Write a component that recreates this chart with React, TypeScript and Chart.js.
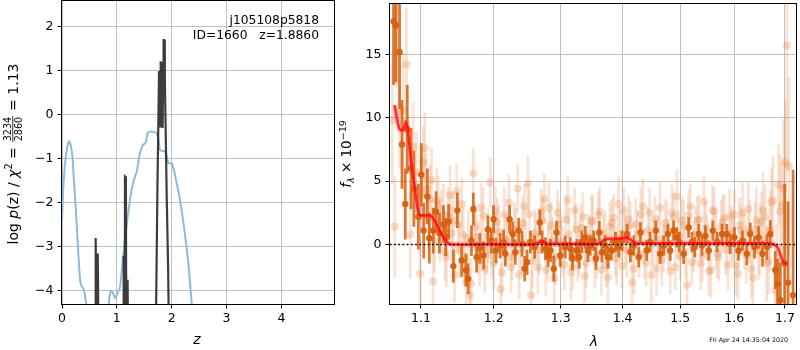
import React, { useEffect, useRef } from 'react';
import { Chart, registerables } from 'chart.js';

Chart.register(...registerables);

// ---------------- Left panel: log p(z) ----------------
const zTicks = [0, 1, 2, 3, 4];
const logpTicks = [-4, -3, -2, -1, 0, 1, 2];
const zRange = [0, 4.96];
const logpRange = [-4.3, 2.59];

const zBlue = [0, 0.02, 0.05, 0.08, 0.11, 0.13, 0.16, 0.19, 0.22, 0.25, 0.27, 0.30, 0.33, 0.36, 0.40, 0.44, 0.48, 0.6, 0.75, 0.84, 0.87, 0.89, 0.93, 0.97, 1.01, 1.06, 1.12, 1.19, 1.27, 1.32, 1.37, 1.40, 1.42, 1.48, 1.53, 1.56, 1.62, 1.67, 1.72, 1.75, 1.79, 1.84, 1.88, 1.91, 1.94, 2.0, 2.04, 2.09, 2.14, 2.18, 2.23, 2.27, 2.31, 2.34, 2.38];
const logpBlue = [-2.4, -1.75, -1.17, -0.85, -0.65, -0.6, -0.7, -0.95, -1.55, -2.1, -2.54, -3.2, -3.75, -3.9, -3.98, -4.28, -4.6, -5.2, -5.0, -4.45, -4.1, -4.0, -4.05, -4.17, -4.05, -3.9, -3.14, -2.39, -1.7, -1.45, -1.25, -1.0, -0.87, -0.68, -0.62, -0.42, -0.38, -0.39, -0.41, -0.5, -0.8, -0.82, -0.83, -0.95, -1.1, -1.1, -1.25, -1.55, -1.85, -2.16, -2.6, -3.0, -3.45, -3.9, -4.5];

const zDark = [0.58, 0.608, 0.614, 0.63, 0.645, 0.652, 0.665, 0.68, 1.10, 1.115, 1.12, 1.13, 1.142, 1.148, 1.165, 1.172, 1.18, 1.19, 1.196, 1.21, 1.70, 1.715, 1.74, 1.77, 1.782, 1.79, 1.80, 1.81, 1.822, 1.835, 1.845, 1.852, 1.862, 1.872, 1.878, 1.89, 1.91, 1.935, 1.96];
const logpDark = [-6, -5, -2.8, -5.5, -5, -3.15, -5, -6, -6, -5, -3.2, -5.5, -5, -1.4, -1.42, -5, -5.5, -5, -3.75, -6, -6, -4.5, -1.7, 1.0, 0.9, -0.26, 1.22, -0.2, 1.2, -0.3, 1.0, 1.7, 1.7, 1.2, 0.85, -0.3, -1.9, -3.45, -6];

// ---------------- Right panel: spectrum ----------------
const lamTicks = [1.1, 1.2, 1.3, 1.4, 1.5, 1.6, 1.7];
const fluxTicks = [0, 5, 10, 15];
const lamRange = [1.06, 1.7226];
const fluxRange = [-4.69, 18.98];

const lamLight = [1.063, 1.066, 1.068, 1.072, 1.077, 1.081, 1.086, 1.090, 1.094, 1.099, 1.103, 1.107, 1.112, 1.116, 1.121, 1.125, 1.130, 1.134, 1.139, 1.143, 1.148, 1.152, 1.157, 1.161, 1.166, 1.171, 1.175, 1.180, 1.185, 1.190, 1.195, 1.200, 1.205, 1.210, 1.215, 1.220, 1.225, 1.230, 1.235, 1.240, 1.245, 1.250, 1.255, 1.260, 1.265, 1.270, 1.275, 1.280, 1.285, 1.290, 1.295, 1.300, 1.306, 1.311, 1.316, 1.322, 1.327, 1.332, 1.338, 1.343, 1.349, 1.354, 1.360, 1.365, 1.371, 1.376, 1.382, 1.388, 1.393, 1.399, 1.405, 1.410, 1.416, 1.422, 1.428, 1.434, 1.440, 1.446, 1.452, 1.458, 1.464, 1.470, 1.476, 1.482, 1.488, 1.494, 1.500, 1.506, 1.512, 1.518, 1.524, 1.531, 1.537, 1.543, 1.549, 1.556, 1.562, 1.568, 1.575, 1.581, 1.588, 1.594, 1.600, 1.607, 1.613, 1.620, 1.627, 1.633, 1.640, 1.647, 1.653, 1.660, 1.667, 1.673, 1.680, 1.687, 1.694, 1.701, 1.704, 1.708];
const fluxLight = [9.8, 1.4, 18.4, 10.5, 10.6, 14.2, 0.8, 7.7, 5.7, -2.3, 6.5, 4.4, 3.6, -2.9, 3.5, 1.1, 2.4, -1.0, 3.9, 1.9, 4.2, -0.5, 0.8, -3.0, -4.0, 5.6, 0.6, -1.3, 2.3, -0.5, 4.9, -1.5, 1.8, -3.5, 2.4, 0.3, -1.8, 1.2, 4.4, -0.4, 3.0, 4.8, -4.0, 0.9, -1.8, 2.6, 3.6, -0.8, 1.5, -2.7, 2.5, 0.2, -1.6, 3.5, -2.2, 2.7, -0.9, 1.3, -2.5, 0.6, 1.9, -1.2, 2.3, -2.0, 0.9, -2.6, 1.7, -0.5, 3.2, -1.7, 0.4, 2.0, -3.0, 1.6, -0.8, 3.0, -1.4, 2.5, 0.1, -1.9, 2.9, -0.3, 1.2, -2.1, 2.2, 3.8, -0.9, 1.5, -3.2, 3.0, -0.2, 1.9, -1.5, 3.4, 0.6, -2.0, 2.6, -0.7, 1.4, 2.1, -1.6, 0.9, 2.4, -2.3, 1.1, 0.2, 2.8, -1.9, 1.2, -0.4, 1.8, 2.2, -1.3, 3.3, -3.6, 4.7, 3.1, 6.5, 15.7, 6.2];
const errLight = [5.0, 4.0, 6.0, 4.5, 4.5, 4.5, 3.5, 3.5, 3.2, 3.0, 2.9, 2.8, 2.7, 2.6, 2.6, 2.5, 2.4, 2.4, 2.3, 2.3, 2.2, 2.2, 2.2, 2.1, 2.1, 2.0, 2.1, 2.0, 2.2, 1.9, 2.0, 2.1, 1.9, 2.0, 2.2, 1.8, 2.0, 2.1, 1.9, 2.0, 1.8, 2.2, 2.0, 1.9, 2.1, 1.8, 2.0, 2.2, 1.9, 2.0, 1.8, 2.1, 2.0, 1.9, 2.2, 1.8, 2.0, 1.9, 2.1, 1.8, 2.0, 2.2, 1.9, 2.0, 1.8, 2.1, 1.9, 2.0, 2.2, 1.8, 2.0, 1.9, 2.1, 2.0, 1.8, 2.2, 1.9, 2.0, 1.8, 2.1, 2.0, 1.9, 2.2, 1.8, 2.0, 2.1, 1.9, 2.0, 2.2, 1.8, 2.0, 1.9, 2.1, 2.0, 1.8, 2.2, 1.9, 2.0, 2.1, 1.9, 2.0, 2.2, 1.9, 2.1, 2.0, 2.2, 2.1, 2.3, 2.2, 2.4, 2.3, 2.5, 2.6, 2.8, 3.0, 3.2, 3.5, 5.0, 10.0, 7.0];

const lamLight2 = [1.101, 1.105, 1.110, 1.114, 1.118, 1.123, 1.127, 1.132, 1.136, 1.141, 1.145, 1.150, 1.155, 1.159, 1.164, 1.168, 1.173, 1.178, 1.182, 1.187, 1.192, 1.197, 1.202, 1.207, 1.212, 1.217, 1.222, 1.227, 1.232, 1.237, 1.242, 1.247, 1.252, 1.257, 1.262, 1.267, 1.272, 1.277, 1.282, 1.287, 1.292, 1.297, 1.303, 1.308, 1.313, 1.319, 1.324, 1.329, 1.335, 1.340, 1.346, 1.351, 1.357, 1.362, 1.368, 1.373, 1.379, 1.385, 1.390, 1.396, 1.402, 1.407, 1.413, 1.419, 1.425, 1.431, 1.437, 1.443, 1.449, 1.455, 1.461, 1.467, 1.473, 1.479, 1.485, 1.491, 1.497, 1.503, 1.509, 1.515, 1.521, 1.527, 1.534, 1.540, 1.546, 1.552, 1.559, 1.565, 1.571, 1.578, 1.584, 1.591, 1.597, 1.603, 1.610, 1.616, 1.623, 1.630, 1.636, 1.643, 1.650, 1.656, 1.663, 1.670, 1.676, 1.683, 1.690, 1.697];
const fluxLight2 = [4.0, 7.6, 2.1, 5.1, 0.3, 3.0, 1.9, -0.6, 2.2, 0.9, -2.4, 1.6, 3.2, -1.1, 0.5, -3.1, 1.4, -0.2, 2.9, -1.9, 0.7, -0.9, 2.6, 1.0, -2.2, 0.4, 3.3, -1.0, 0.9, -2.4, 1.7, 0.1, 2.4, -1.3, 0.6, -0.4, 1.9, -2.0, 2.9, 0.3, -1.0, 1.6, -0.6, 2.0, 0.8, -1.8, 1.2, -0.3, 2.2, -1.5, 0.5, 1.8, -0.8, 2.6, 0.2, -1.6, 1.4, 2.1, -1.1, 0.8, 2.7, -0.4, 1.5, -1.9, 0.9, 2.4, -0.7, 1.1, -2.4, 2.0, 0.4, -1.2, 1.7, 0.0, 2.5, -1.8, 0.7, 1.9, -0.6, 2.3, -1.4, 0.8, 2.0, -0.9, 1.3, -2.1, 2.7, 0.3, -1.0, 1.8, -0.4, 2.2, 0.6, -1.7, 1.5, 2.5, -0.8, 1.0, -2.6, 1.9, 0.4, 2.7, -1.5, 1.1, 3.5, -2.2, 2.6, 4.4];
const errLight2 = [2.8, 2.8, 2.6, 2.6, 2.5, 2.4, 2.4, 2.3, 2.3, 2.2, 2.2, 2.1, 2.1, 2.0, 2.2, 2.0, 1.9, 2.1, 2.0, 1.9, 2.2, 1.8, 2.0, 2.1, 1.9, 2.0, 2.2, 1.8, 2.0, 1.9, 2.1, 1.8, 2.0, 2.2, 1.9, 2.0, 1.8, 2.1, 2.0, 1.9, 2.2, 1.8, 2.0, 1.9, 2.1, 1.8, 2.0, 2.2, 1.9, 2.0, 1.8, 2.1, 1.9, 2.0, 2.2, 1.8, 2.0, 1.9, 2.1, 2.0, 1.8, 2.2, 1.9, 2.0, 1.8, 2.1, 2.0, 1.9, 2.2, 1.8, 2.0, 2.1, 1.9, 2.0, 2.2, 1.8, 2.0, 1.9, 2.1, 2.0, 1.8, 2.2, 1.9, 2.0, 2.1, 1.9, 2.0, 2.2, 1.9, 2.1, 2.0, 2.2, 2.1, 2.3, 2.2, 2.4, 2.3, 2.5, 2.6, 2.6, 2.8, 3.0, 3.0, 3.2, 3.5, 3.8, 4.5, 5.5];

const lamDark = [1.0645, 1.0676, 1.0722, 1.0753, 1.0795, 1.0821, 1.0870, 1.0907, 1.0965, 1.1004, 1.1036, 1.1084, 1.1110, 1.1163, 1.1200, 1.1245, 1.1300, 1.1330, 1.1370, 1.1435, 1.1489, 1.1549, 1.1607, 1.1639, 1.1685, 1.1711, 1.1757, 1.1805, 1.1855, 1.1917, 1.1965, 1.1998, 1.2032, 1.2094, 1.2142, 1.2167, 1.2230, 1.2274, 1.2313, 1.2363, 1.2413, 1.2452, 1.2488, 1.2538, 1.2602, 1.2679, 1.2715, 1.2766, 1.2807, 1.2843, 1.2893, 1.2936, 1.2993, 1.3071, 1.3150, 1.3186, 1.3254, 1.3292, 1.3334, 1.3389, 1.3430, 1.3469, 1.3523, 1.3560, 1.3615, 1.3658, 1.3714, 1.3756, 1.3813, 1.3880, 1.3935, 1.3991, 1.4075, 1.4131, 1.4188, 1.4273, 1.4302, 1.4411, 1.4468, 1.4567, 1.4643, 1.4703, 1.4779, 1.4820, 1.4881, 1.4939, 1.4981, 1.5060, 1.5151, 1.5211, 1.5261, 1.5334, 1.5394, 1.5456, 1.5519, 1.5594, 1.5674, 1.5768, 1.5858, 1.5921, 1.6003, 1.6080, 1.6157, 1.6243, 1.6308, 1.6392, 1.6471, 1.6550, 1.6638, 1.6704, 1.6805, 1.6851, 1.6907, 1.6994, 1.7063, 1.7166];
const fluxDark = [17.6, 17.3, 15.2, 7.9, 3.2, 9.1, 6.0, 4.4, 2.2, 5.5, 1.1, 3.8, 0.5, 1.1, 2.6, 0.9, 1.6, 0.6, 1.8, -1.7, 2.7, -1.25, -2.0, -2.7, 0.3, 2.8, -1.0, -0.3, -0.86, 1.2, 0.3, 2.0, -0.47, -0.08, 0.18, -0.73, 2.0, 0.83, -0.6, 1.1, 0.05, -1.9, -1.4, 0.2, -0.2, 1.74, 0.2, -0.34, -0.86, -0.47, -1.9, 0.96, -0.86, -0.2, -0.34, -1.1, -0.47, -1.0, 0.2, 0.57, -0.47, -0.08, 0.3, -1.1, 0.96, -0.6, -0.08, -1.0, -0.47, 0.2, -0.2, 0.3, 0.83, -0.6, -0.08, -1.0, 0.96, -0.47, 0.2, 1.1, -0.73, -0.08, 0.83, -0.47, 1.1, 0.57, 0.2, -0.73, 1.35, 0.2, -0.2, 0.83, -0.08, 0.7, -0.47, 1.1, 0.2, 0.83, 0.83, 0.05, 0.57, -0.47, 0.3, -0.73, 0.83, -0.2, 0.57, -0.73, -0.2, 0.83, -2.0, -3.1, -4.4, -1.5, -3.0, -4.0];
const errDark = [5.0, 4.5, 4.5, 3.5, 2.8, 3.5, 3.2, 3.0, 2.6, 2.5, 2.2, 2.2, 2.0, 1.8, 1.6, 1.6, 1.5, 1.5, 1.4, 1.3, 1.4, 1.3, 1.3, 1.2, 1.2, 1.3, 1.2, 1.2, 1.1, 1.1, 1.0, 1.1, 1.0, 1.0, 1.0, 1.0, 1.1, 1.0, 1.0, 1.0, 1.0, 1.0, 1.0, 0.9, 0.9, 1.0, 0.9, 0.9, 0.9, 0.9, 1.0, 0.9, 0.9, 0.9, 0.9, 0.9, 0.9, 0.9, 0.9, 0.9, 0.9, 0.8, 0.8, 0.9, 0.9, 0.8, 0.8, 0.9, 0.8, 0.8, 0.8, 0.8, 0.8, 0.8, 0.8, 0.8, 0.8, 0.8, 0.8, 0.8, 0.8, 0.8, 0.8, 0.8, 0.8, 0.8, 0.8, 0.8, 0.8, 0.8, 0.8, 0.8, 0.8, 0.8, 0.8, 0.8, 0.8, 0.8, 0.8, 0.8, 0.8, 0.8, 0.8, 0.9, 0.9, 0.9, 0.9, 1.0, 1.0, 1.1, 1.5, 2.0, 3.0, 6.3, 6.4, 9.9];

const lamModel = [1.0658, 1.0687, 1.0722, 1.0765, 1.0804, 1.0831, 1.0870, 1.0918, 1.0961, 1.0987, 1.1049, 1.1115, 1.1181, 1.1248, 1.1315, 1.1383, 1.1454, 1.20, 1.255, 1.265, 1.272, 1.28, 1.30, 1.36, 1.368, 1.375, 1.39, 1.40, 1.407, 1.413, 1.42, 1.43, 1.50, 1.60, 1.665, 1.675, 1.684, 1.69, 1.695, 1.700, 1.705];
const fluxModel = [11.0, 10.0, 9.1, 9.0, 9.7, 8.9, 6.6, 4.5, 2.7, 2.3, 2.3, 2.3, 1.9, 1.1, 0.45, 0.05, 0.0, 0.02, 0.0, 0.15, 0.25, 0.05, 0.05, 0.05, 0.3, 0.45, 0.45, 0.5, 0.57, 0.4, 0.15, 0.1, 0.1, 0.1, 0.1, 0.05, -0.2, -0.7, -1.25, -1.5, -1.5];

const annotation = ['j105108p5818', 'ID=1660   z=1.8860'];
const timestamp = 'Fri Apr 24 14:35:04 2020';

// ---------------- helpers ----------------
const FAM = '"DejaVu Sans", sans-serif';
const F = (size: number, style = '') => `${style} ${size}px ${FAM}`.trim();
const fmtMinus = (v: number) => (v < 0 ? '\u2212' + Math.abs(v) : String(v));
const pts = (xs: number[], ys: number[]) => xs.map((x, i) => ({ x, y: ys[i] }));

type Piece = { t?: string; font: string; dy?: number; frac?: [string, string] };

function pieceWidth(ctx: CanvasRenderingContext2D, p: Piece) {
  ctx.font = p.font;
  if (p.frac) return Math.max(ctx.measureText(p.frac[0]).width, ctx.measureText(p.frac[1]).width) + 3;
  return ctx.measureText(p.t || '').width;
}

function drawPieces(ctx: CanvasRenderingContext2D, pieces: Piece[], cx: number, cy: number, rotated: boolean) {
  ctx.save();
  ctx.translate(cx, cy);
  if (rotated) ctx.rotate(-Math.PI / 2);
  const total = pieces.reduce((s, p) => s + pieceWidth(ctx, p), 0);
  let x = -total / 2;
  ctx.fillStyle = '#000';
  ctx.textBaseline = 'alphabetic';
  for (const p of pieces) {
    const w = pieceWidth(ctx, p);
    ctx.font = p.font;
    if (p.frac) {
      ctx.textAlign = 'center';
      ctx.fillText(p.frac[0], x + w / 2, -6.4);
      ctx.fillText(p.frac[1], x + w / 2, 4.9);
      ctx.fillRect(x + 0.8, -5.1, w - 1.6, 0.8);
    } else {
      ctx.textAlign = 'left';
      ctx.fillText(p.t || '', x, p.dy || 0);
    }
    x += w;
  }
  ctx.restore();
}

function frame(chart: any) {
  const { ctx, chartArea: a } = chart;
  ctx.save();
  ctx.strokeStyle = '#000';
  ctx.lineWidth = 1;
  ctx.strokeRect(Math.round(a.left) - 0.5, Math.round(a.top) - 0.5, Math.round(a.width) + 1, Math.round(a.height) + 1);
  ctx.restore();
}

const errorBarPlugin = {
  id: 'errbars',
  beforeDatasetDraw(chart: any, args: any) {
    const ds = chart.data.datasets[args.index];
    if (!ds.yErr) return;
    const { ctx, chartArea: a, scales } = chart;
    ctx.save();
    ctx.beginPath();
    ctx.rect(a.left, a.top, a.width, a.height);
    ctx.clip();
    ctx.strokeStyle = ds.errColor;
    ctx.lineWidth = ds.errWidth;
    ds.data.forEach((p: any, i: number) => {
      const x = scales.x.getPixelForValue(p.x);
      const y1 = scales.y.getPixelForValue(p.y - ds.yErr[i]);
      const y2 = scales.y.getPixelForValue(p.y + ds.yErr[i]);
      ctx.beginPath();
      ctx.moveTo(x, y1);
      ctx.lineTo(x, y2);
      ctx.stroke();
    });
    ctx.restore();
  },
};

const gridOpts = { color: '#b0b0b0', lineWidth: 0.8, tickColor: '#000', tickLength: 4.5, tickWidth: 1 };
const tickFont = { family: FAM, size: 12.5 };
const fitX = (s: any) => { s.height = 46; s.paddingLeft = 0; s.paddingRight = 0; s.paddingTop = 0; s.paddingBottom = 0; };
const fitY = (w: number) => (s: any) => { s.width = w; s.paddingTop = 0; s.paddingBottom = 0; s.paddingLeft = 0; s.paddingRight = 0; };

export default function App() {
  const leftRef = useRef<HTMLCanvasElement>(null);
  const rightRef = useRef<HTMLCanvasElement>(null);

  useEffect(() => {
    const leftPlugin = {
      id: 'leftDecor',
      afterDraw(chart: any) {
        frame(chart);
        const ctx = chart.ctx as CanvasRenderingContext2D;
        ctx.save();
        ctx.fillStyle = '#000';
        ctx.font = F(12.3);
        ctx.textAlign = 'right';
        ctx.textBaseline = 'alphabetic';
        ctx.fillText(annotation[0], 319, 24);
        ctx.fillText(annotation[1], 319, 39);
        ctx.restore();
        drawPieces(ctx, [{ t: 'z', font: F(14, 'italic') }], 197, 344, false);
        drawPieces(
          ctx,
          [
            { t: 'log ', font: F(14) },
            { t: 'p', font: F(14, 'italic') },
            { t: '(z) / ', font: F(14) },
            { t: '\u03c7', font: F(14, 'italic') },
            { t: '2', font: F(9.8), dy: -5.5 },
            { t: ' = ', font: F(14) },
            { frac: ['3234', '2860'], font: F(9.6) },
            { t: ' = 1.13', font: F(14) },
          ],
          17.5,
          154,
          true
        );
      },
    };

    const left = new Chart(leftRef.current!, {
      type: 'scatter',
      data: {
        datasets: [
          {
            data: pts(zDark, logpDark),
            showLine: true,
            borderColor: 'rgba(40,40,40,0.9)',
            borderWidth: 2.2,
            pointRadius: 0,
            clip: 0,
            order: 0,
          } as any,
          {
            data: pts(zBlue, logpBlue),
            showLine: true,
            borderColor: '#8fbbd9',
            borderWidth: 2,
            pointRadius: 0,
            cubicInterpolationMode: 'monotone',
            clip: 0,
            order: 1,
          } as any,
        ],
      },
      options: {
        responsive: false,
        animation: false,
        events: [],
        layout: { padding: { left: 0, right: 2, top: 1, bottom: 0 } },
        plugins: { legend: { display: false }, tooltip: { enabled: false } },
        scales: {
          x: {
            type: 'linear',
            min: zRange[0],
            max: zRange[1],
            grid: gridOpts,
            border: { display: false },
            ticks: { font: tickFont, color: '#000', padding: 3, maxRotation: 0, callback: (v: any) => fmtMinus(Number(v)) },
            afterBuildTicks: (s: any) => { s.ticks = zTicks.map((v) => ({ value: v })); },
            afterFit: fitX,
          },
          y: {
            type: 'linear',
            min: logpRange[0],
            max: logpRange[1],
            grid: gridOpts,
            border: { display: false },
            ticks: { font: tickFont, color: '#000', padding: 4, callback: (v: any) => fmtMinus(Number(v)) },
            afterBuildTicks: (s: any) => { s.ticks = logpTicks.map((v) => ({ value: v })); },
            afterFit: fitY(62),
          },
        },
      } as any,
      plugins: [leftPlugin],
    });

    const rightPlugin = {
      id: 'rightDecor',
      afterDraw(chart: any) {
        frame(chart);
        const ctx = chart.ctx as CanvasRenderingContext2D;
        drawPieces(ctx, [{ t: '\u03bb', font: F(14, 'italic') }], 258, 346, false);
        drawPieces(
          ctx,
          [
            { t: 'f', font: F(13.5, 'italic') },
            { t: '\u03bb', font: F(9.5, 'italic'), dy: 3 },
            { t: ' \u00d7 10', font: F(13.5) },
            { t: '\u221219', font: F(9.5), dy: -5.5 },
          ],
          15,
          154,
          true
        );
        ctx.save();
        ctx.fillStyle = '#000';
        ctx.font = F(6.3);
        ctx.textAlign = 'right';
        ctx.textBaseline = 'alphabetic';
        ctx.fillText(timestamp, 452, 342);
        ctx.restore();
      },
    };

    const lightPointColor = 'rgba(232,140,80,0.3)';
    const lightBarColor = 'rgba(232,140,80,0.24)';

    const right = new Chart(rightRef.current!, {
      type: 'scatter',
      data: {
        datasets: [
          {
            data: [{ x: lamRange[0], y: 0 }, { x: lamRange[1], y: 0 }],
            showLine: true,
            borderColor: '#000',
            borderWidth: 1.6,
            borderDash: [1.6, 2.6],
            pointRadius: 0,
            clip: 0,
            order: 0,
          } as any,
          {
            data: pts(lamModel, fluxModel),
            showLine: true,
            borderColor: 'rgba(255,0,0,0.75)',
            borderWidth: 2.6,
            pointRadius: 0,
            cubicInterpolationMode: 'monotone',
            clip: 0,
            order: 1,
          } as any,
          {
            data: pts(lamModel, fluxModel),
            showLine: true,
            borderColor: 'rgba(255,90,90,0.3)',
            borderWidth: 6,
            pointRadius: 0,
            cubicInterpolationMode: 'monotone',
            clip: 0,
            order: 2,
          } as any,
          {
            data: pts(lamDark, fluxDark),
            yErr: errDark,
            errColor: 'rgba(214,96,14,0.85)',
            errWidth: 2.8,
            pointRadius: 3.2,
            pointBackgroundColor: 'rgba(214,96,14,0.95)',
            pointBorderWidth: 0,
            clip: 0,
            order: 3,
          } as any,
          {
            data: pts(lamLight, fluxLight),
            yErr: errLight,
            errColor: lightBarColor,
            errWidth: 2.8,
            pointRadius: 4,
            pointBackgroundColor: lightPointColor,
            pointBorderWidth: 0,
            clip: 0,
            order: 4,
          } as any,
          {
            data: pts(lamLight2, fluxLight2),
            yErr: errLight2,
            errColor: lightBarColor,
            errWidth: 2.8,
            pointRadius: 4,
            pointBackgroundColor: lightPointColor,
            pointBorderWidth: 0,
            clip: 0,
            order: 5,
          } as any,
        ],
      },
      options: {
        responsive: false,
        animation: false,
        events: [],
        layout: { padding: { left: 0, right: 4, top: 1, bottom: 0 } },
        plugins: { legend: { display: false }, tooltip: { enabled: false } },
        scales: {
          x: {
            type: 'logarithmic',
            min: lamRange[0],
            max: lamRange[1],
            grid: gridOpts,
            border: { display: false },
            ticks: { font: tickFont, color: '#000', padding: 3, maxRotation: 0, autoSkip: false, callback: (v: any) => Number(v).toFixed(1) },
            afterBuildTicks: (s: any) => { s.ticks = lamTicks.map((v) => ({ value: v })); },
            afterFit: fitX,
          },
          y: {
            type: 'linear',
            min: fluxRange[0],
            max: fluxRange[1],
            grid: gridOpts,
            border: { display: false },
            ticks: { font: tickFont, color: '#000', padding: 4, callback: (v: any) => fmtMinus(Number(v)) },
            afterBuildTicks: (s: any) => { s.ticks = fluxTicks.map((v) => ({ value: v })); },
            afterFit: fitY(54),
          },
        },
      } as any,
      plugins: [errorBarPlugin, rightPlugin],
    });

    return () => {
      left.destroy();
      right.destroy();
    };
  }, []);

  return (
    <div style={{ position: 'absolute', left: 0, top: 0, width: 800, height: 350, background: '#fff' }}>
      <canvas ref={leftRef} width={336} height={350} style={{ position: 'absolute', left: 0, top: 0, width: 336, height: 350 }} />
      <canvas ref={rightRef} width={464} height={350} style={{ position: 'absolute', left: 336, top: 0, width: 464, height: 350 }} />
    </div>
  );
}
